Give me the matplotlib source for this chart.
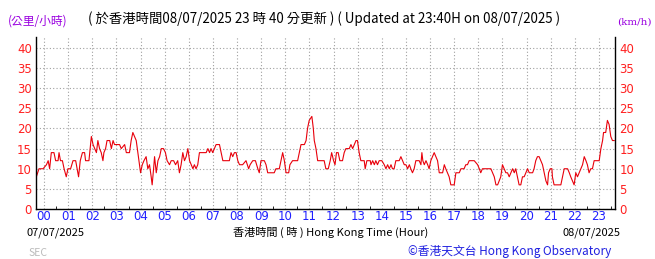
import numpy as np
import matplotlib.pyplot as plt

plt.rcParams['font.family'] = ['Noto Sans CJK TC', 'DejaVu Sans']

# time in hours (HKT, 08/07/2025; negative = previous day) and wind speed (km/h)
hours = [-0.32, -0.21, -0.04, 0.10, 0.17, 0.23, 0.30, 0.41, 0.48, 0.58, 0.62, 0.68, 0.76, 0.83, 0.92,
         0.99, 1.10, 1.20, 1.31, 1.37, 1.43, 1.50, 1.59, 1.68, 1.72, 1.86, 1.96, 2.03, 2.10, 2.17,
         2.23, 2.30, 2.37, 2.44, 2.48, 2.55, 2.61, 2.72, 2.79, 2.86, 2.92, 2.99, 3.13, 3.20, 3.34,
         3.41, 3.54, 3.61, 3.68, 3.75, 3.82, 3.93, 4.00, 4.07, 4.14, 4.23, 4.30, 4.37, 4.44, 4.48,
         4.54, 4.58, 4.65, 4.72, 4.79, 4.86, 4.95, 5.03, 5.10, 5.20, 5.27, 5.37, 5.45, 5.54, 5.61,
         5.68, 5.75, 5.82, 5.89, 5.96, 6.03, 6.10, 6.17, 6.23, 6.30, 6.37, 6.44, 6.58, 6.72, 6.79,
         6.86, 6.92, 6.99, 7.06, 7.13, 7.27, 7.34, 7.41, 7.54, 7.68, 7.75, 7.82, 7.89, 7.96, 8.03,
         8.10, 8.23, 8.37, 8.48, 8.54, 8.65, 8.76, 8.86, 8.92, 8.99, 9.13, 9.20, 9.27, 9.41, 9.54,
         9.61, 9.75, 9.82, 9.89, 9.96, 10.03, 10.14, 10.19, 10.30, 10.37, 10.51, 10.58, 10.65, 10.79, 10.86,
         10.92, 10.99, 11.10, 11.16, 11.20, 11.27, 11.34, 11.48, 11.61, 11.68, 11.78, 11.86, 11.92, 12.00, 12.06,
         12.12, 12.19, 12.26, 12.37, 12.44, 12.51, 12.65, 12.72, 12.79, 12.86, 12.93, 12.99, 13.06, 13.13, 13.27,
         13.31, 13.38, 13.52, 13.55, 13.62, 13.69, 13.75, 13.82, 13.89, 14.00, 14.10, 14.17, 14.24, 14.31, 14.38,
         14.44, 14.51, 14.58, 14.72, 14.79, 14.86, 14.93, 15.00, 15.07, 15.14, 15.20, 15.27, 15.34, 15.41, 15.55,
         15.62, 15.66, 15.70, 15.76, 15.83, 15.90, 15.96, 16.03, 16.10, 16.17, 16.24, 16.31, 16.38, 16.52, 16.59,
         16.65, 16.72, 16.79, 16.86, 17.00, 17.07, 17.21, 17.28, 17.41, 17.48, 17.55, 17.62, 17.83, 17.97, 18.04,
         18.10, 18.17, 18.24, 18.38, 18.52, 18.66, 18.73, 18.80, 18.93, 19.00, 19.07, 19.14, 19.21, 19.28, 19.35,
         19.42, 19.49, 19.55, 19.62, 19.69, 19.76, 19.83, 19.90, 19.97, 20.04, 20.11, 20.25, 20.31, 20.38, 20.45,
         20.52, 20.59, 20.66, 20.73, 20.80, 20.87, 20.91, 20.98, 21.05, 21.07, 21.14, 21.42, 21.49, 21.56, 21.70,
         21.77, 21.83, 21.90, 21.97, 22.04, 22.11, 22.25, 22.32, 22.39, 22.46, 22.52, 22.59, 22.66, 22.73, 22.80,
         23.01, 23.08, 23.15, 23.19, 23.28, 23.35, 23.42, 23.49, 23.56, 23.63]
speed = [8, 10, 10, 11, 12, 10, 14, 14, 12, 12, 14, 12, 12, 10, 8,
         10, 10, 12, 12, 10, 8, 12, 14, 14, 12, 12, 18, 16, 15, 14,
         17, 15, 14, 12, 14, 15, 17, 17, 15, 17, 16, 16, 16, 15, 16,
         14, 14, 17, 19, 18, 17, 12, 9, 11, 12, 13, 10, 11, 8, 6,
         10, 13, 9, 12, 13, 15, 15, 14, 12, 11, 12, 12, 11, 12, 9,
         11, 14, 12, 13, 15, 12, 11, 10, 11, 10, 11, 14, 14, 14, 15,
         14, 15, 14, 15, 16, 16, 14, 12, 12, 12, 14, 13, 14, 14, 12,
         11, 11, 12, 10, 11, 12, 12, 10, 9, 12, 12, 11, 9, 9, 9,
         10, 10, 12, 14, 12, 9, 9, 11, 12, 12, 12, 14, 16, 16, 17,
         20, 22, 23, 20, 17, 15, 12, 12, 12, 10, 10, 12, 14, 12, 11,
         14, 14, 12, 12, 14, 15, 15, 16, 15, 16, 17, 17, 14, 12, 12,
         10, 12, 12, 11, 12, 11, 12, 11, 12, 12, 11, 10, 11, 10, 11,
         10, 10, 12, 12, 13, 12, 11, 11, 10, 11, 10, 9, 10, 12, 12,
         11, 14, 12, 11, 12, 11, 10, 12, 13, 14, 13, 12, 9, 9, 11,
         10, 9, 8, 6, 6, 9, 9, 10, 10, 11, 11, 12, 12, 11, 10,
         9, 10, 10, 10, 10, 8, 6, 6, 8, 11, 10, 9, 9, 8, 9,
         10, 9, 10, 8, 6, 6, 8, 8, 9, 10, 9, 9, 10, 12, 13,
         13, 12, 11, 9, 7, 6, 9, 10, 10, 8, 6, 6, 8, 10, 10,
         9, 8, 7, 6, 9, 8, 10, 11, 13, 12, 11, 9, 10, 10, 12,
         12, 15, 17, 19, 19, 22, 21, 18, 17, 17]

hour_labels = ['%02d' % h for h in range(24)]

fig = plt.figure(figsize=(6.55, 2.59), dpi=100)
ax = fig.add_axes([0.055, 0.193, 0.884, 0.664])

ax.plot(hours, speed, color='#e8000b', lw=0.8)

ax.set_xlim(-1/3, 23 + 2/3)
ax.set_ylim(0, 42.7)

# dotted grid
ax.set_xticks(range(24))
ax.set_xticks(np.arange(0.5, 24, 1), minor=True)
ax.set_yticks(range(0, 45, 5))
ax.grid(True, which='major', color='#a0a0a0', linestyle=(0, (1, 2)), lw=0.8)

ax.set_xticklabels(hour_labels, color='#2020ff', fontsize=8.5, family=['DejaVu Sans'])
ax.tick_params(axis='x', which='major', length=0, pad=1)
ax.tick_params(axis='x', which='minor', length=2, direction='in', color='black')
ax.tick_params(axis='y', which='both', length=0, labelcolor='#ff2020', labelsize=8.5,
               labelleft=True, labelright=True, pad=3)
for lab in ax.get_yticklabels():
    lab.set_family(['DejaVu Sans'])

ax.spines['top'].set_visible(False)
for s in ['left', 'right', 'bottom']:
    ax.spines[s].set_linewidth(1.0)

# texts
fig.text(0.012, 0.905, '(公里/小時)', color='#9a00e0', fontsize=8.5)
fig.text(0.135, 0.91, '( 於香港時間08/07/2025 23 時 40 分更新 ) ( Updated at 23:40H on 08/07/2025 )',
         color='black', fontsize=9.6)
fig.text(0.942, 0.905, '(km/h)', color='#9a00e0', fontsize=7.5, family=['DejaVu Serif'])
fig.text(0.041, 0.09, '07/07/2025', color='black', fontsize=8)
fig.text(0.505, 0.09, '香港時間 ( 時 ) Hong Kong Time (Hour)', color='black', fontsize=8, ha='center')
fig.text(0.948, 0.09, '08/07/2025', color='black', fontsize=8, ha='right')
fig.text(0.044, 0.01, 'SEC', color='#bbbbbb', fontsize=7.5)
fig.text(0.933, 0.015, '©香港天文台 Hong Kong Observatory', color='#2020e0', fontsize=8.5, ha='right')

fig.savefig('out.png', dpi=100)
